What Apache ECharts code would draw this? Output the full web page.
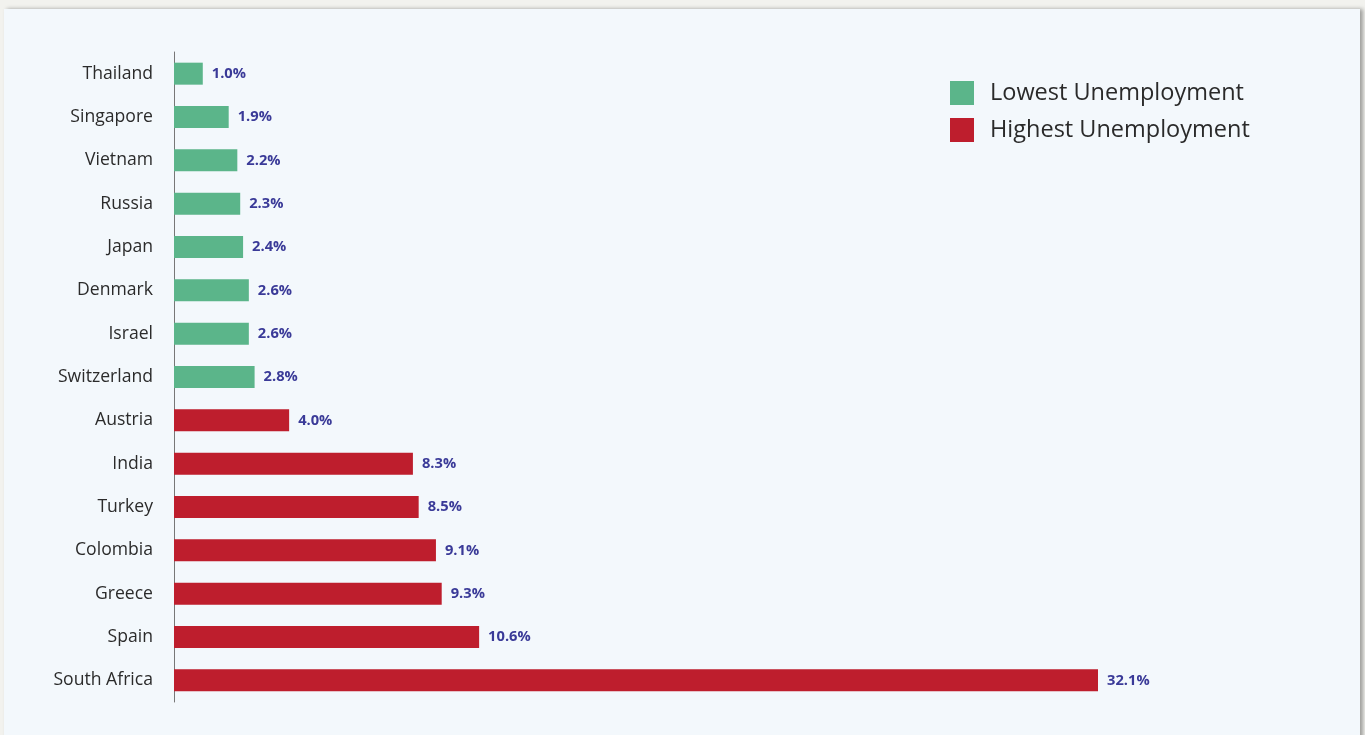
<!DOCTYPE html>
<html><head><meta charset="utf-8">
<script src="https://cdn.jsdelivr.net/npm/echarts@6/dist/echarts.min.js"></script>
<style>
html,body{margin:0;padding:0;background:#f2f2ee;width:1365px;height:735px;overflow:hidden;}
#panel{position:absolute;left:4px;top:9px;width:1356px;height:740px;background:#f3f8fc;box-shadow:3px 0 4px rgba(0,0,0,0.35);}
#chart{position:absolute;left:0;top:0;width:1365px;height:735px;}
</style></head>
<body>
<div id="panel"></div>
<div id="chart"></div>
<script>
const categories = ["Thailand","Singapore","Vietnam","Russia","Japan","Denmark","Israel","Switzerland","Austria","India","Turkey","Colombia","Greece","Spain","South Africa"];
const lowestValues = [1.0,1.9,2.2,2.3,2.4,2.6,2.6,2.8,null,null,null,null,null,null,null];
const highestValues = [null,null,null,null,null,null,null,null,4.0,8.3,8.5,9.1,9.3,10.6,32.1];
const seriesNames = ["Lowest Unemployment","Highest Unemployment"];

const chart = echarts.init(document.getElementById('chart'));
const font = '"Open Sans", sans-serif';
const lbl = {show:true,position:'right',distance:9,color:'#3a3a98',fontWeight:'bold',fontSize:14.7,fontFamily:font,formatter:p=>p.value.toFixed(1)+'%'};
chart.setOption({
  backgroundColor:'transparent',
  animation:false,
  grid:{left:174,top:52,width:924,height:650},
  legend:{left:945,top:76,orient:'vertical',itemWidth:24,itemHeight:24,itemGap:13,
    textStyle:{fontSize:23.5,lineHeight:24,color:'#2a2a2a',fontFamily:font,padding:[0,0,0,11]},
    data:seriesNames.map(n=>({name:n,icon:'rect'}))},
  xAxis:{type:'value',min:0,max:32.1,show:false},
  yAxis:{type:'category',data:categories,inverse:true,
    axisLine:{show:true,lineStyle:{color:'#777',width:1}},
    axisTick:{show:false},
    axisLabel:{margin:21,fontSize:17.6,color:'#2b2b2b',fontFamily:font,padding:[0,0,3,0]}},
  series:[
    {name:seriesNames[0],type:'bar',stack:'s',barWidth:22,data:lowestValues,itemStyle:{color:'#5bb58a'},label:lbl},
    {name:seriesNames[1],type:'bar',stack:'s',barWidth:22,data:highestValues,itemStyle:{color:'#be1e2d'},label:lbl}
  ]
});
</script>
</body></html>
